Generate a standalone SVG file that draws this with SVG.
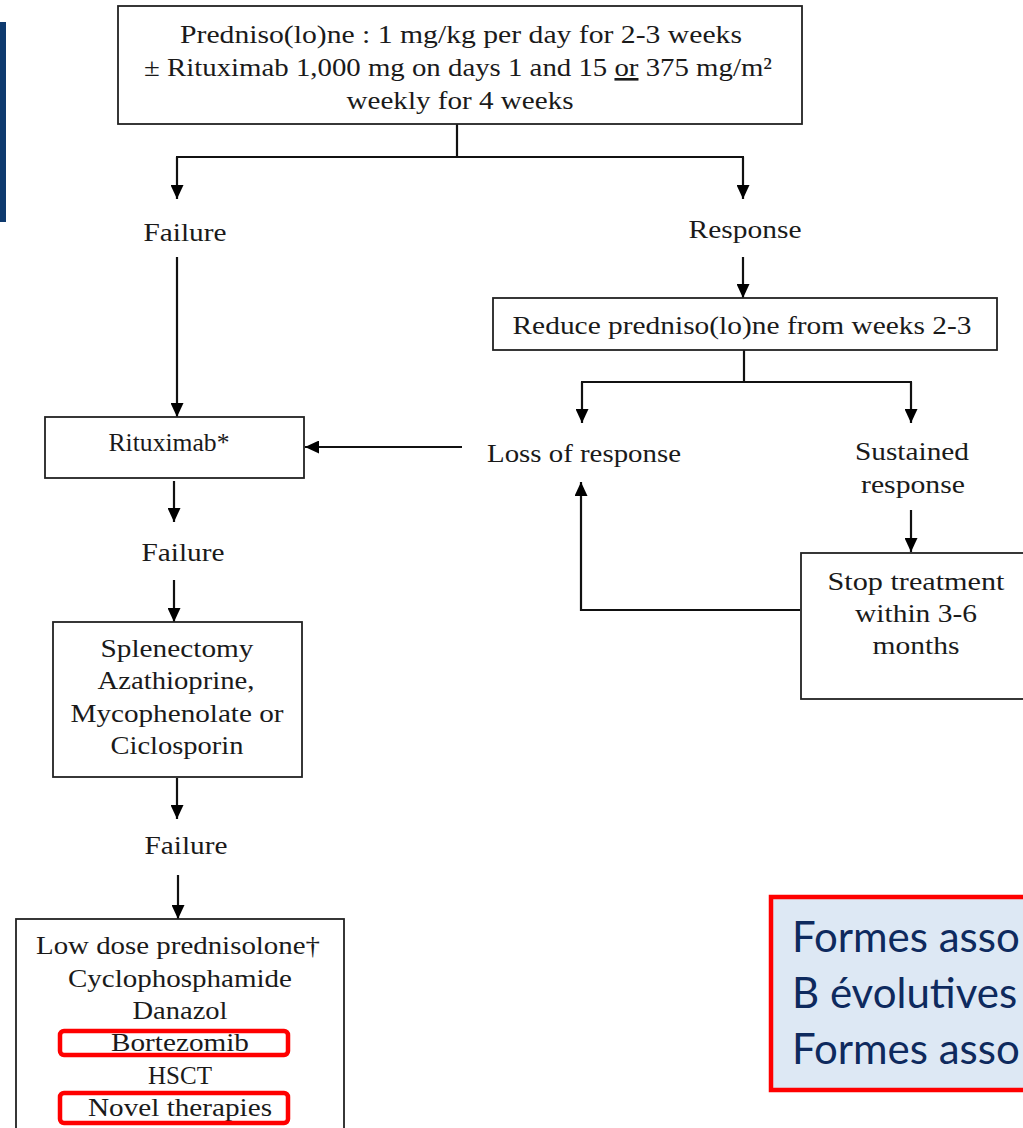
<svg xmlns="http://www.w3.org/2000/svg" width="1023" height="1128" viewBox="0 0 1023 1128">
<defs>
<marker id="ah" markerUnits="userSpaceOnUse" markerWidth="14" markerHeight="13" refX="14" refY="6.5" orient="auto" viewBox="0 0 14 13">
<path d="M0,0 L14,6.5 L0,13 z" fill="#000"/>
</marker>
<style>
.box{fill:#fff;stroke:#222;stroke-width:1.8}
.t{font-family:"Liberation Serif","Times New Roman",serif;font-size:26px;fill:#1a1a1a;text-anchor:middle}
.c{fill:none;stroke:#111;stroke-width:2.2}
.a{fill:none;stroke:#111;stroke-width:2.2;marker-end:url(#ah)}
.hl{fill:none;stroke:#ff0000;stroke-width:4.5}
.fr{font-family:Lato,"Open Sans",sans-serif;font-size:42px;fill:#0e2a5e}
</style>
</defs>
<rect width="1023" height="1128" fill="#fff"/>
<rect x="0" y="22" width="6" height="200" fill="#0e3a6e"/>

<g id="connectors">
<path class="c" d="M457,124 V157 M176,157 H744"/>
<path class="a" d="M177,157 V199"/>
<path class="a" d="M743,157 V199"/>
<path class="a" d="M177,257 V417"/>
<path class="a" d="M462,447 H305"/>
<path class="a" d="M743,257 V298"/>
<path class="c" d="M744,350 V382 M581,382 H912"/>
<path class="a" d="M582,382 V423"/>
<path class="a" d="M911,382 V423"/>
<path class="a" d="M911,510 V552"/>
<path class="a" d="M800,610 H581 V482"/>
<path class="a" d="M174,481 V522"/>
<path class="a" d="M174,580 V622"/>
<path class="a" d="M177,778 V819"/>
<path class="a" d="M178,875 V919"/>
</g>

<g id="n-top">
<rect class="box" x="118" y="6" width="684" height="118"/>
<text class="t" x="461" y="43" textLength="562" lengthAdjust="spacingAndGlyphs">Predniso(lo)ne : 1 mg/kg per day for 2-3 weeks</text>
<text class="t" x="458" y="76" textLength="628" lengthAdjust="spacingAndGlyphs">± Rituximab 1,000 mg on days 1 and 15 <tspan text-decoration="underline">or</tspan> 375 mg/m²</text>
<text class="t" x="460" y="109" textLength="227" lengthAdjust="spacingAndGlyphs">weekly for 4 weeks</text>
</g>

<g id="n-failure1"><text class="t" x="185" y="241" textLength="83" lengthAdjust="spacingAndGlyphs">Failure</text></g>
<g id="n-response"><text class="t" x="745" y="238" textLength="113" lengthAdjust="spacingAndGlyphs">Response</text></g>

<g id="n-reduce">
<rect class="box" x="493" y="298" width="504" height="52"/>
<text class="t" x="742" y="334" textLength="459" lengthAdjust="spacingAndGlyphs">Reduce predniso(lo)ne from weeks 2-3</text>
</g>

<g id="n-rituximab">
<rect class="box" x="45" y="417" width="259" height="61"/>
<text class="t" x="169" y="451" textLength="121" lengthAdjust="spacingAndGlyphs">Rituximab*</text>
</g>

<g id="n-loss"><text class="t" x="584" y="462" textLength="194" lengthAdjust="spacingAndGlyphs">Loss of response</text></g>

<g id="n-sustained">
<text class="t" x="912" y="460" textLength="114" lengthAdjust="spacingAndGlyphs">Sustained</text>
<text class="t" x="913" y="493" textLength="104" lengthAdjust="spacingAndGlyphs">response</text>
</g>

<g id="n-stop">
<rect class="box" x="801" y="553" width="230" height="146"/>
<text class="t" x="916" y="590" textLength="177" lengthAdjust="spacingAndGlyphs">Stop treatment</text>
<text class="t" x="916" y="622" textLength="122" lengthAdjust="spacingAndGlyphs">within 3-6</text>
<text class="t" x="916" y="654" textLength="87" lengthAdjust="spacingAndGlyphs">months</text>
</g>

<g id="n-failure2"><text class="t" x="183" y="561" textLength="83" lengthAdjust="spacingAndGlyphs">Failure</text></g>

<g id="n-splenectomy">
<rect class="box" x="53" y="622" width="249" height="155"/>
<text class="t" x="177" y="657" textLength="153" lengthAdjust="spacingAndGlyphs">Splenectomy</text>
<text class="t" x="176" y="689" textLength="157" lengthAdjust="spacingAndGlyphs">Azathioprine,</text>
<text class="t" x="177" y="722" textLength="213" lengthAdjust="spacingAndGlyphs">Mycophenolate or</text>
<text class="t" x="177" y="754" textLength="133" lengthAdjust="spacingAndGlyphs">Ciclosporin</text>
</g>

<g id="n-failure3"><text class="t" x="186" y="854" textLength="83" lengthAdjust="spacingAndGlyphs">Failure</text></g>

<g id="n-last">
<rect class="box" x="16" y="919" width="328" height="220"/>
<text class="t" x="178" y="954" textLength="284" lengthAdjust="spacingAndGlyphs">Low dose prednisolone†</text>
<text class="t" x="180" y="987" textLength="224" lengthAdjust="spacingAndGlyphs">Cyclophosphamide</text>
<text class="t" x="180" y="1019" textLength="95" lengthAdjust="spacingAndGlyphs">Danazol</text>
<text class="t" x="180" y="1051" textLength="138" lengthAdjust="spacingAndGlyphs">Bortezomib</text>
<text class="t" x="180" y="1084" textLength="64" lengthAdjust="spacingAndGlyphs">HSCT</text>
<text class="t" x="180" y="1116" textLength="184" lengthAdjust="spacingAndGlyphs">Novel therapies</text>
<rect class="hl" x="60" y="1031" width="228" height="24" rx="4"/>
<rect class="hl" x="60" y="1093" width="228" height="30" rx="4"/>
</g>

<g id="n-note">
<rect x="771" y="897" width="262" height="193" fill="#dde8f4" stroke="#ff0000" stroke-width="4.5"/>
<text class="fr" x="792" y="952">Formes asso</text>
<text class="fr" x="792" y="1008">B évolutives</text>
<text class="fr" x="792" y="1064">Formes asso</text>
</g>
</svg>
